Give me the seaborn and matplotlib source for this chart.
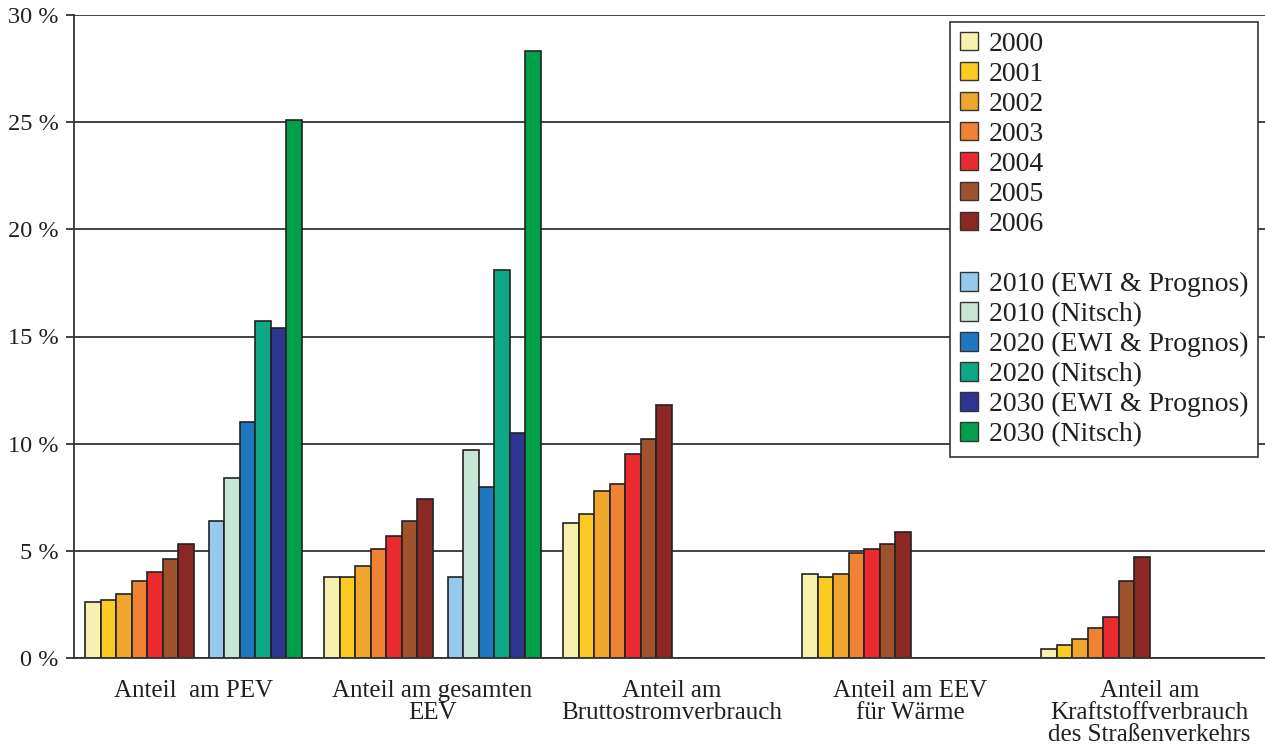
import numpy as np
import pandas as pd
import matplotlib
matplotlib.use("Agg")
import matplotlib.pyplot as plt
import matplotlib.patches as mpatches
from matplotlib.ticker import FuncFormatter
import seaborn as sns

# Categories (x axis groups)
categories = [
    "Anteil  am PEV",
    "Anteil am gesamten\nEEV",
    "Anteil am\nBruttostromverbrauch",
    "Anteil am EEV\nfür Wärme",
    "Anteil am\nKraftstoffverbrauch\ndes Straßenverkehrs",
]

# Series names (legend order); "" is the empty legend row / bar gap
series = ["2000", "2001", "2002", "2003", "2004", "2005", "2006", "",
          "2010 (EWI & Prognos)", "2010 (Nitsch)",
          "2020 (EWI & Prognos)", "2020 (Nitsch)",
          "2030 (EWI & Prognos)", "2030 (Nitsch)"]

# Shares in %, one value per category (None = no bar)
v2000 = [2.6, 3.8, 6.3, 3.9, 0.4]
v2001 = [2.7, 3.8, 6.7, 3.8, 0.6]
v2002 = [3.0, 4.3, 7.8, 3.9, 0.9]
v2003 = [3.6, 5.1, 8.1, 4.9, 1.4]
v2004 = [4.0, 5.7, 9.5, 5.1, 1.9]
v2005 = [4.6, 6.4, 10.2, 5.3, 3.6]
v2006 = [5.3, 7.4, 11.8, 5.9, 4.7]
v2010_ewi = [6.4, 3.8, None, None, None]
v2010_nitsch = [8.4, 9.7, None, None, None]
v2020_ewi = [11.0, 8.0, None, None, None]
v2020_nitsch = [15.7, 18.1, None, None, None]
v2030_ewi = [15.4, 10.5, None, None, None]
v2030_nitsch = [25.1, 28.3, None, None, None]

values = {
    "2000": v2000, "2001": v2001, "2002": v2002, "2003": v2003,
    "2004": v2004, "2005": v2005, "2006": v2006,
    "2010 (EWI & Prognos)": v2010_ewi, "2010 (Nitsch)": v2010_nitsch,
    "2020 (EWI & Prognos)": v2020_ewi, "2020 (Nitsch)": v2020_nitsch,
    "2030 (EWI & Prognos)": v2030_ewi, "2030 (Nitsch)": v2030_nitsch,
}

colors = {
    "2000": "#F7F1B0", "2001": "#FBCB23", "2002": "#F0A52D", "2003": "#EF8233",
    "2004": "#EA2A2E", "2005": "#A0522D", "2006": "#8B2823", "": "#FFFFFF",
    "2010 (EWI & Prognos)": "#96C9ED", "2010 (Nitsch)": "#C8E6D6",
    "2020 (EWI & Prognos)": "#1E77BF", "2020 (Nitsch)": "#0FA886",
    "2030 (EWI & Prognos)": "#2E3590", "2030 (Nitsch)": "#00A04B",
}

rows = []
for name, vals in values.items():
    for cat, v in zip(categories, vals):
        if v is not None:
            rows.append({"cat": cat, "series": name, "value": v})
df = pd.DataFrame(rows)

sns.set_style("white")
plt.rcParams["font.family"] = ["Liberation Serif", "DejaVu Serif"]
plt.rcParams["text.color"] = "#231F20"

fig = plt.figure(figsize=(12.65, 7.44), dpi=100)
ax = fig.add_axes([74 / 1265, 1 - 658 / 744, 1195 / 1265, (658 - 15) / 744])

sns.barplot(data=df, x="cat", y="value", hue="series", order=categories,
            hue_order=series, palette=colors, saturation=1, width=0.904, gap=0,
            edgecolor="#222222", linewidth=1.2, legend=False, ax=ax)

ax.set_ylim(0, 30)
ax.set_xlim(-0.5, 4.5)
ax.set_yticks(np.arange(0, 31, 5))
ax.yaxis.set_major_formatter(FuncFormatter(lambda y, _: f"{int(y)} %"))
ax.grid(axis="y", color="#333333", linewidth=1.3)
ax.set_axisbelow(True)
for s in ["top", "right"]:
    ax.spines[s].set_visible(False)
for s in ["left", "bottom"]:
    ax.spines[s].set_color("#333333")
    ax.spines[s].set_linewidth(1.3)

ax.set_xlabel("")
ax.set_ylabel("")
ax.set_xticks(range(len(categories)))
ax.set_xticklabels(categories, fontsize=18, linespacing=1.0)
ax.tick_params(axis="x", length=0, pad=16, colors="#231F20")
ax.set_xticks(np.arange(-0.5, 5.0, 1.0), minor=True)
ax.tick_params(axis="x", which="minor", length=7, width=1.3, color="#333333")
ax.tick_params(axis="y", length=6, width=1.3, color="#333333", labelsize=17.5,
               pad=5, left=True, labelcolor="#231F20")

handles = []
for name in series:
    if name == "":
        handles.append(mpatches.Patch(facecolor="none", edgecolor="none", label=" "))
    else:
        handles.append(mpatches.Patch(facecolor=colors[name], edgecolor="#333333",
                                      linewidth=1.0, label=name))
leg = ax.legend(handles=handles, loc="upper right",
                bbox_to_anchor=(1258 / 1265, 1 - 22 / 744),
                bbox_transform=fig.transFigure, frameon=True, fancybox=False,
                fontsize=20, handlelength=0.65, handleheight=0.65,
                handletextpad=0.4, labelspacing=0.18, borderpad=0.35,
                borderaxespad=0, framealpha=1)
leg.get_frame().set_edgecolor("#333333")
leg.get_frame().set_linewidth(1.2)

fig.savefig("out.png", dpi=100)
